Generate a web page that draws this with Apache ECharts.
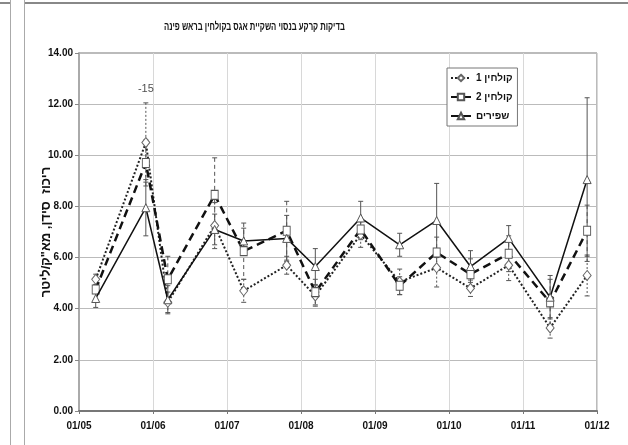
<!DOCTYPE html>
<html>
<head>
<meta charset="utf-8">
<script src="https://cdn.jsdelivr.net/npm/echarts@6/dist/echarts.min.js"></script>
<style>
html,body{margin:0;padding:0;background:#fff}
#chart{width:628px;height:445px}
</style>
</head>
<body>
<div id="chart"></div>
<script>
// sampling dates (dd/mm)
var sampleDates = ['08/05','29/05','07/06','26/06','08/07','26/07','07/08','26/08','11/09','26/09','10/10','26/10','12/11','27/11'];
var seriesNames = ['קולחין 1','קולחין 2','שפירים'];

// calcium, meq/l
var kolhin1 = [5.15,10.5,4.25,7.25,4.7,5.7,4.5,6.9,5.05,5.6,4.8,5.7,3.25,5.3];
var kolhin2 = [4.75,9.7,5.15,8.45,6.25,7.05,4.65,7.1,4.9,6.2,5.35,6.15,4.25,7.05];
var shapirim = [4.4,7.95,4.35,7.1,6.65,6.75,5.65,7.55,6.5,7.45,5.65,6.75,4.45,9.05];

// error bars (+/-)
var kolhin1Err = [0.2,1.55,0.4,0.9,0.45,0.35,0.4,0.5,0.5,0.75,0.32,0.6,0.4,0.8];
var kolhin2Err = [0.4,0.9,0.9,1.45,1.1,1.15,0.5,0.4,0.35,0.6,0.6,0.7,0.9,1.0];
var shapirimErr = [0.35,1.1,0.55,0.6,0.5,0.9,0.7,0.65,0.45,1.45,0.62,0.5,0.85,3.2];

var monthLabels = ['01/05','01/06','01/07','01/08','01/09','01/10','01/11','01/12'];
var firstMonth = 5;

// note above the 29/05 point
var noteDate = '29/05';
var noteValue = 12.6;
var noteText = '-15';

var titleText = 'בדיקות קרקע בנסוי השקיית אגס בקולחין בראש פינה';
var yName = 'ריכוז  סידן, מא"ק/ליטר';

var font = '"Liberation Sans", Arial, sans-serif';

function toMonth(s){
	var p = s.split('/');
	var d = +p[0], m = +p[1];
	var dim = new Date(2000, m, 0).getDate();
	return m + (d - 1) / dim;
}
var xs = sampleDates.map(toMonth);

function pairs(vals){
	return vals.map(function(v, i){ return [xs[i], v]; });
}
// keep hebrew + digits in right-to-left order on the canvas
function rtl(s){ return '\u202B' + s + '\u202C'; }

// error bars drawn through the axes
function errSeries(vals, errs, dash, width){
	return {
		type:'custom',
		silent:true,
		z:1,
		encode:{x:0, y:[1,2]},
		data: vals.map(function(v, i){ return [xs[i], v - errs[i], v + errs[i]]; }),
		renderItem:function(params, api){
			var x = api.value(0);
			var lo = api.coord([x, api.value(1)]);
			var hi = api.coord([x, api.value(2)]);
			var w = 2.5;
			var st = {stroke:'#555', lineWidth:width, lineDash:dash};
			var cap = {stroke:'#555', lineWidth:1};
			return {type:'group', children:[
				{type:'line', shape:{x1:hi[0], y1:hi[1], x2:lo[0], y2:lo[1]}, style:st},
				{type:'line', shape:{x1:hi[0]-w, y1:hi[1], x2:hi[0]+w, y2:hi[1]}, style:cap},
				{type:'line', shape:{x1:lo[0]-w, y1:lo[1], x2:lo[0]+w, y2:lo[1]}, style:cap}
			]};
		}
	};
}

var myChart = echarts.init(document.getElementById('chart'));

var option = {
	animation:false,
	backgroundColor:'#fff',
	legend:{
		orient:'vertical',
		left:447,
		top:68,
		itemWidth:20,
		itemHeight:8,
		itemGap:9,
		padding:[5,5,5,3],
		backgroundColor:'#fff',
		borderColor:'#777',
		borderWidth:1,
		data:seriesNames,
		formatter:function(name){ return rtl(name); },
		textStyle:{fontFamily:font, fontSize:10, fontWeight:'bold', color:'#111'}
	},
	grid:{
		left:79, right:31, top:53, bottom:34,
		show:true, borderColor:'#777', borderWidth:1
	},
	xAxis:{
		type:'value',
		min:firstMonth,
		max:firstMonth + monthLabels.length - 1,
		interval:1,
		axisLine:{lineStyle:{color:'#777', width:2}},
		axisTick:{show:true, length:3, lineStyle:{color:'#777'}},
		splitLine:{show:true, lineStyle:{color:'#d8d8d8', width:1}},
		axisLabel:{
			margin:10,
			fontFamily:font, fontSize:10, fontWeight:'bold', color:'#111',
			formatter:function(v){ return monthLabels[Math.round(v - firstMonth)]; }
		}
	},
	yAxis:{
		type:'value',
		min:0, max:14, interval:2,
		name:rtl(yName),
		nameLocation:'middle',
		nameRotate:90,
		nameGap:26,
		nameMoveOverlap:false,
		nameTextStyle:{fontFamily:font, fontSize:13, fontWeight:'bold', color:'#111'},
		axisLine:{show:true, lineStyle:{color:'#aaa', width:2}},
		axisTick:{show:true, length:4, lineStyle:{color:'#888'}},
		splitLine:{show:true, lineStyle:{color:'#bbb', width:1}},
		axisLabel:{
			margin:6,
			fontFamily:font, fontSize:10, fontWeight:'bold', color:'#111',
			formatter:function(v){ return v.toFixed(2); }
		}
	},
	graphic:[
		{type:'line', shape:{x1:10.5, y1:0, x2:10.5, y2:445}, style:{stroke:'#aaa', lineWidth:1}},
		{type:'line', shape:{x1:24.5, y1:0, x2:24.5, y2:445}, style:{stroke:'#aaa', lineWidth:1}},
		{type:'line', shape:{x1:25, y1:3, x2:628, y2:3}, style:{stroke:'#888', lineWidth:2}},
		{type:'line', shape:{x1:0, y1:3, x2:10, y2:3}, style:{stroke:'#888', lineWidth:2}},
		// narrow title
		{type:'text', x:164, y:21, scaleX:0.7,
			style:{text:rtl(titleText), font:'bold 11px ' + font, fill:'#111', textAlign:'left', textVerticalAlign:'top'}}
	],
	series:[
		errSeries(kolhin1, kolhin1Err, [2,2], 1),
		errSeries(kolhin2, kolhin2Err, [4,3], 1),
		errSeries(shapirim, shapirimErr, null, 1),
		{
			name:seriesNames[0],
			type:'line',
			z:3,
			data:pairs(kolhin1),
			symbol:'diamond',
			symbolSize:[8,10],
			lineStyle:{color:'#222', width:2, type:[2,2]},
			itemStyle:{color:'#fff', borderColor:'#666', borderWidth:1}
		},
		{
			name:seriesNames[1],
			type:'line',
			z:4,
			data:pairs(kolhin2),
			symbol:'rect',
			symbolSize:[7,9],
			lineStyle:{color:'#111', width:2.5, type:[8,5]},
			itemStyle:{color:'#fff', borderColor:'#555', borderWidth:1}
		},
		{
			name:seriesNames[2],
			type:'line',
			z:5,
			data:pairs(shapirim),
			symbol:'triangle',
			symbolSize:[8,8],
			lineStyle:{color:'#111', width:1.5},
			itemStyle:{color:'#fff', borderColor:'#555', borderWidth:1}
		},
		{
			type:'scatter',
			silent:true,
			symbolSize:1,
			itemStyle:{color:'rgba(0,0,0,0)'},
			data:[[toMonth(noteDate), noteValue]],
			label:{show:true, position:'inside', formatter:noteText,
				fontFamily:font, fontSize:11, color:'#222'}
		}
	]
};
myChart.setOption(option);
</script>
</body>
</html>
